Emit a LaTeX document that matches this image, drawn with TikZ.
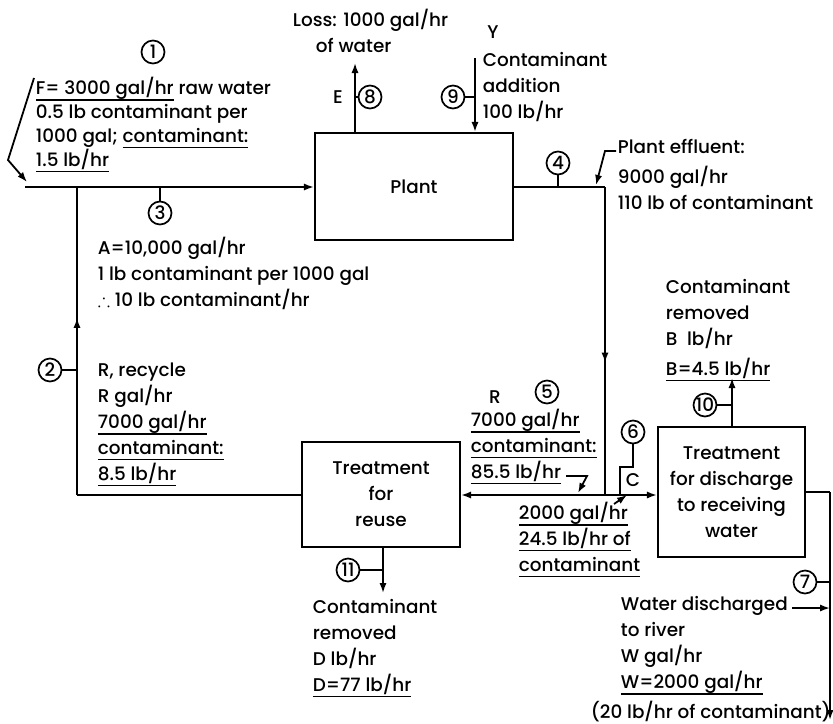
\documentclass[tikz,border=0pt]{standalone}
\usepackage{amssymb}
\usepackage{fontspec}
\setmainfont{Poppins}[UprightFont=* Medium]
\usetikzlibrary{arrows.meta,positioning,calc,decorations.markings}
\newcommand{\undl}[1]{\leavevmode\vtop{\hbox{\rule[-2.4pt]{0pt}{1pt}#1}\hrule height 0.8pt}}

\begin{document}
\begin{tikzpicture}[x=0.5pt,y=-0.5pt,>={Latex[length=5pt,width=3.6pt]},
    line width=0.9pt,font=\fontsize{9.2}{13}\selectfont,
    unitbox/.style={draw,line width=1.1pt,align=center,inner sep=0pt},
    streamno/.style={circle,draw,line width=0.85pt,inner sep=0pt,minimum size=11.5pt},
    datatext/.style={align=left,anchor=base west,inner sep=0pt},
    midarrow/.style={postaction={decorate},
      decoration={markings,mark=at position #1 with {\arrow{>}}}}]
  \useasboundingbox (0,0) rectangle (833,723);
  \node[unitbox,minimum width=99pt,minimum height=53.5pt] (plant) at (414,186.5) {Plant};
  \node[unitbox,minimum width=79pt,minimum height=52.5pt] (reuse) at (381,494.5)
    {Treatment\\for\\reuse};
  \node[unitbox,minimum width=73.5pt,minimum height=65pt] (disch) at (731.5,492)
    {Treatment\\for discharge\\to receiving\\water};
  \coordinate (feedL) at (25,187);
  \coordinate (jA) at (77,187);
  \coordinate (jRL) at (77,495);
  \coordinate (jE) at (605,187);
  \coordinate (jB) at (605,495);
  \coordinate (jC) at (620,495);
  \coordinate (cTop) at (620,467);
  \coordinate (outR) at (830,492);
  \coordinate (outEnd) at (830,720);
  \coordinate (eOut) at (355,63);
  \coordinate (yIn) at (475,58);
  \coordinate (bOut) at (732,378);
  \coordinate (dOut) at (383,593);
  % main streams
  \draw[->] (feedL) -- (feedL -| plant.west);
  \draw[midarrow=0.575] (jRL) -- (jA);
  \draw (reuse.west |- jRL) -- (jRL);
  \draw (plant.east |- jE) -- (jE);
  \draw[midarrow=0.57] (jE) -- (jB);
  \draw[->] (jB) -- (reuse.east |- jB);
  \draw[->] (jB) -- (disch.west |- jB);
  \draw (disch.east |- outR) -- (outR);
  \draw[->] (outR) -- (outEnd);
  \draw[->] (eOut |- plant.north) -- (eOut);
  \draw[->] (yIn) -- (yIn |- plant.north);
  \draw[->] (bOut |- disch.north) -- (bOut);
  \draw[->] (dOut |- reuse.south) -- (dOut);
  % stream numbers
  \node[streamno] (s1) at (153,52) {1};
  \node[streamno] (s2) at (50,370) {2};
  \node[streamno] (s3) at (160,213) {3};
  \node[streamno] (s4) at (558,163) {4};
  \node[streamno] (s5) at (547,392) {5};
  \node[streamno] (s6) at (633,432) {6};
  \node[streamno] (s7) at (805,582) {7};
  \node[streamno] (s8) at (370,97) {8};
  \node[streamno] (s9) at (453,97) {9};
  \node[streamno] (s10) at (705,405) {10};
  \node[streamno] (s11) at (348,570) {11};
  \draw (s2) -- (s2 -| jA);
  \draw (s3) -- (s3 |- jA);
  \draw (s4) -- (s4 |- jE);
  \draw (s6) -- (s6 |- cTop) -- (cTop) -- (jC);
  \draw (s7) -- (s7 -| outR);
  \draw (s8) -- (s8 -| eOut);
  \draw (s9) -- (s9 -| yIn);
  \draw (s10) -- (s10 -| bOut);
  \draw (s11) -- (s11 -| dOut);
  % labels (anchored at the baseline of their last line)
  \node[datatext] (feedTxt) at (35,166)
    {\undl{F= 3000 gal/hr} raw water\\[-1pt]0.5 lb contaminant per\\[-1pt]
     1000 gal; \undl{contaminant:}\\[-1pt]\undl{1.5 lb/hr}};
  \node[datatext] (lossTxt) at (292,52) {Loss: 1000 gal/hr\\\hspace*{11.5pt}of water};
  \node (eLbl) at (338,97) {E};
  \node (yLbl) at (493,32) {Y};
  \node[datatext] (addTxt) at (482,118) {Contaminant\\addition\\100 lb/hr};
  \node[datatext] (aTxt) at (97,306)
    {A=10,000 gal/hr\\1 lb contaminant per 1000 gal\\$\therefore$ 10 lb contaminant/hr};
  \node[datatext] (effTxt) at (617,209)
    {Plant effluent:\\[2pt]9000 gal/hr\\110 lb of contaminant};
  \node[datatext] (bTxt) at (665,375)
    {Contaminant\\removed\\B\ \ lb/hr\\[2pt]\undl{B=4.5 lb/hr}};
  \node[datatext] (rTxt) at (97,480)
    {R, recycle\\R gal/hr\\\undl{7000 gal/hr}\\\undl{contaminant:}\\\undl{8.5 lb/hr}};
  \node (rLbl) at (495,397) {R};
  \node[datatext] (s5Txt) at (470,478)
    {\undl{7000 gal/hr}\\\undl{contaminant:}\\\undl{85.5 lb/hr}};
  \node[datatext] (cTxt) at (518,571)
    {\undl{2000 gal/hr}\\\undl{24.5 lb/hr of}\\\undl{contaminant}};
  \node (cLbl) at (633,480) {C};
  \node[datatext] (dTxt) at (312,691)
    {Contaminant\\removed\\D lb/hr\\\undl{D=77 lb/hr}};
  \node[datatext] (wTxt) at (620,688)
    {Water discharged\\to river\\W gal/hr\\\undl{W=2000 gal/hr}};
  \node[datatext] (wLoad) at (590,718) {(20 lb/hr of contaminant)};
  % leaders
  \coordinate (feedLead) at (34,78);
  \coordinate (effLead) at (616,151);
  \coordinate (rLead) at (566,476);
  \coordinate (cLead) at (614,504);
  \coordinate (wLead) at (792,608);
  \draw[->] (feedLead) -- (8,160) -- ($(feedL)+(2,-5)$);
  \draw[->] (effLead) -- ++(-11,0) -- ($(jE)+(-9,-2)$);
  \draw[->] (rLead) -- ++(21,0) -- ($(jB)+(-27,-2)$);
  \draw[->] (cLead) -- ($(jC)+(7,0)$);
  \draw[->] (wLead) -- (wLead -| outR);
\end{tikzpicture}
\end{document}
